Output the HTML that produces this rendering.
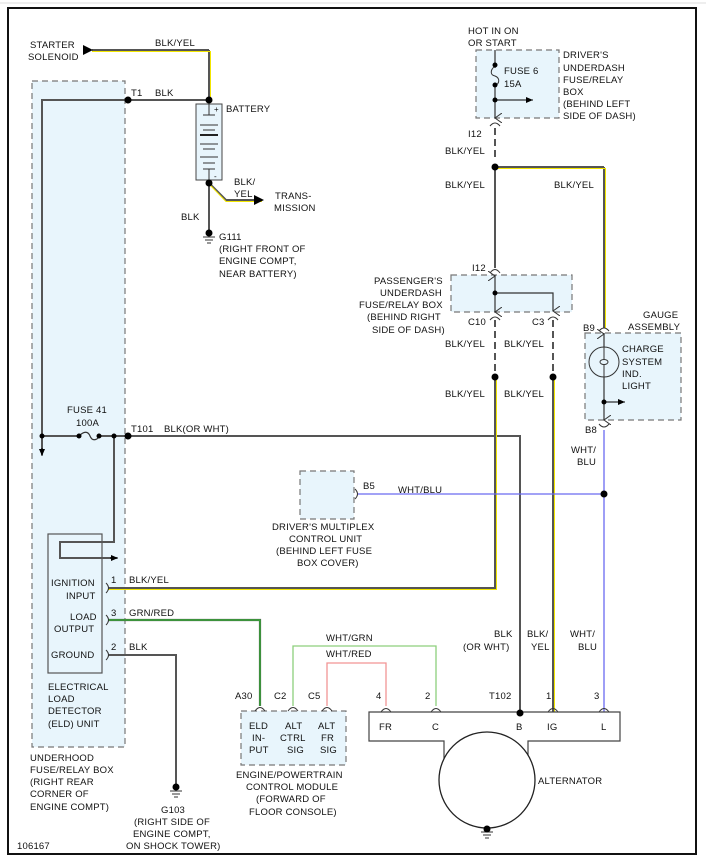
<!DOCTYPE html>
<html><head><meta charset="utf-8"><style>
html,body{margin:0;padding:0;background:#fff}
svg{display:block}
text{font-family:"Liberation Sans",sans-serif;font-size:9.5px;fill:#111;letter-spacing:0.2px}
</style></head><body>
<svg width="706" height="857" viewBox="0 0 706 857" xmlns="http://www.w3.org/2000/svg">
<defs>
<marker id="ar" markerWidth="10" markerHeight="10" refX="9" refY="5" orient="auto" markerUnits="userSpaceOnUse"><path d="M0,0 L10,5 L0,10 z" fill="#000"/></marker>
<marker id="as" markerWidth="8" markerHeight="8" refX="7" refY="4" orient="auto" markerUnits="userSpaceOnUse"><path d="M0,1 L7,4 L0,7 z" fill="#000"/></marker>
<marker id="av" markerWidth="10" markerHeight="8" refX="5" refY="7" orient="auto" markerUnits="userSpaceOnUse"><path d="M0,0 L5,7 L10,0" fill="none" stroke="#333" stroke-width="1"/></marker>
</defs>
<line x1="0" y1="3" x2="706" y2="3" stroke="#ddd" stroke-width="1"/>
<rect x="8" y="8" width="688" height="846" fill="none" stroke="#111" stroke-width="2"/>

<g fill="#e8f5fc" stroke="#777" stroke-width="1.2" stroke-dasharray="6,4">
<rect x="32" y="81" width="93" height="666"/>
<rect x="476" y="50" width="83" height="68"/>
<rect x="451" y="275" width="121" height="37"/>
<rect x="585" y="333" width="96" height="87"/>
<rect x="300" y="471" width="54" height="48"/>
<rect x="241" y="711" width="105" height="54"/>
</g>
<rect x="48" y="534" width="54" height="139" fill="#e8f5fc" stroke="#555" stroke-width="1.2"/>

<g fill="none" stroke="#555" stroke-width="2">
<polyline points="42,455 42,100 209,100"/>
<line x1="209" y1="100" x2="209" y2="50"/>
<line x1="209" y1="183" x2="209" y2="232"/>
<polyline points="209,183 226,200 262,200"/>
<polyline points="42,436 128,436 520,436 520,713"/>
<polyline points="114,436 114,542 60,542 60,558 117,558"/>
<polyline points="108,588 495,588 495,377"/>
<polyline points="108,655 176,655 176,785"/>
<line x1="495" y1="167" x2="495" y2="268"/>
<line x1="553" y1="377" x2="553" y2="712"/>
<line x1="604" y1="167" x2="604" y2="328"/>
<line x1="495" y1="167" x2="604" y2="167"/>
<polyline points="209,50 92,50"/>
</g>
<g fill="none" stroke-width="1">
<polyline points="210.5,100 210.5,51.5 92,51.5" stroke="#f2e600"/>
<polyline points="210,185 226,201.5 262,201.5" stroke="#f2e600"/>
<polyline points="108,589.5 496.5,589.5 496.5,377" stroke="#f2e600"/>
<polyline points="497,168.5 605.5,168.5 605.5,328" stroke="#f2e600"/>
<line x1="554.5" y1="377" x2="554.5" y2="712" stroke="#f2e600"/>
</g>
<polyline points="108,620 260,620 260,706" fill="none" stroke="#555" stroke-width="2.2"/>
<polyline points="108,620 260,620 260,706" fill="none" stroke="#2db82d" stroke-width="1.2"/>
<polyline points="293,706 293,646 436,646 436,706" fill="none" stroke="#8dcf7c" stroke-width="1.3"/>
<polyline points="327,706 327,663 386,663 386,706" fill="none" stroke="#f29494" stroke-width="1.3"/>
<polyline points="604,430 604,712" fill="none" stroke="#6a6af0" stroke-width="1.3"/>
<line x1="357" y1="494" x2="604" y2="494" stroke="#6a6af0" stroke-width="1.3"/>
<line x1="84" y1="50" x2="92" y2="50" stroke="#000" marker-end="url(#ar)"/>
<line x1="255" y1="200" x2="263" y2="200" stroke="#000" marker-end="url(#ar)"/>
<line x1="42" y1="448" x2="42" y2="456" stroke="#000" marker-end="url(#as)"/>
<line x1="110" y1="558" x2="118" y2="558" stroke="#000" marker-end="url(#as)"/>

<g stroke="#555" stroke-width="2" stroke-dasharray="7,4">
<line x1="495" y1="128" x2="495" y2="160"/>
<line x1="495" y1="320" x2="495" y2="372"/>
<line x1="553" y1="320" x2="553" y2="372"/>
</g>

<rect x="196" y="104" width="26" height="76" fill="#e8f5fc" stroke="#444" stroke-width="1"/>
<g stroke="#333" stroke-width="1">
<line x1="209" y1="104" x2="209" y2="115"/><line x1="209" y1="169" x2="209" y2="180"/>
<line x1="203" y1="115" x2="215" y2="115"/><line x1="200" y1="125" x2="218" y2="125"/>
<line x1="203" y1="130" x2="215" y2="130"/><line x1="200" y1="144" x2="218" y2="144"/>
<line x1="203" y1="149" x2="215" y2="149"/><line x1="200" y1="157" x2="218" y2="157"/>
<line x1="203" y1="163" x2="215" y2="163"/><line x1="203" y1="169" x2="215" y2="169"/>
</g>
<line x1="200" y1="135" x2="218" y2="135" stroke="#222" stroke-width="2"/>
<text x="214" y="112" style="font-size:8px">+</text><text x="214" y="179" style="font-size:8px">-</text>

<g stroke="#333" stroke-width="1">
<line x1="203" y1="237" x2="215" y2="237"/><line x1="205" y1="240" x2="213" y2="240"/><line x1="207" y1="243" x2="211" y2="243"/>
<line x1="170" y1="791" x2="182" y2="791"/><line x1="172" y1="794" x2="180" y2="794"/><line x1="174" y1="797" x2="178" y2="797"/>
<line x1="481" y1="832" x2="493" y2="832"/><line x1="483" y1="835" x2="491" y2="835"/><line x1="485" y1="838" x2="489" y2="838"/>
</g>
<circle cx="209" cy="233" r="3.5" fill="#000"/>
<circle cx="176" cy="787" r="3.5" fill="#000"/>

<line x1="495" y1="50" x2="495" y2="118" stroke="#333" stroke-width="1.2"/>
<rect x="492" y="68" width="6" height="15" fill="#e8f5fc"/>
<path d="M495,66 C490,70 490,75 495,76 C500,78 500,83 495,86" fill="none" stroke="#333"/>
<line x1="495" y1="100" x2="533" y2="100" stroke="#000" marker-end="url(#as)"/>
<line x1="495" y1="110" x2="495" y2="118" stroke="#333" marker-end="url(#av)"/>
<rect x="80" y="433" width="20" height="6" fill="#e8f5fc"/>
<path d="M79,436 C84,431 88,431 90,436 C92,441 96,441 100,436" fill="none" stroke="#333" stroke-width="1.2"/>

<line x1="495" y1="275" x2="495" y2="312" stroke="#333" stroke-width="1.2"/>
<polyline points="495,293 553,293 553,311" fill="none" stroke="#333" stroke-width="1.2"/>
<line x1="495" y1="304" x2="495" y2="312" stroke="#333" marker-end="url(#av)"/>
<line x1="553" y1="303" x2="553" y2="311" stroke="#333" marker-end="url(#av)"/>
<line x1="495" y1="285" x2="495" y2="276" stroke="#333" marker-end="url(#av)"/>

<line x1="604" y1="333" x2="604" y2="420" stroke="#333" stroke-width="1.2"/>
<circle cx="604" cy="362" r="15" fill="#e8f5fc" stroke="#333"/>
<line x1="604" y1="347" x2="604" y2="377" stroke="#333"/>
<ellipse cx="604" cy="362" rx="4" ry="2.5" fill="#e8f5fc" stroke="#333"/>
<line x1="604" y1="402" x2="625" y2="402" stroke="#000" marker-end="url(#as)"/>
<line x1="604" y1="412" x2="604" y2="420" stroke="#333" marker-end="url(#av)"/>
<line x1="604" y1="343" x2="604" y2="334" stroke="#333" marker-end="url(#av)"/>

<g fill="none" stroke="#333" stroke-width="1">
<path d="M490,126 Q495,120 500,126"/><path d="M490,273 Q495,266 500,273"/>
<path d="M490,320 Q495,314 500,320"/><path d="M548,320 Q553,314 558,320"/>
<path d="M599,331 Q604,325 609,331"/><path d="M599,424 Q604,430 609,424"/>
<path d="M255,711 Q260,704 265,711"/><path d="M288,711 Q293,704 298,711"/><path d="M322,711 Q327,704 332,711"/>
<path d="M381,712 Q386,705 391,712"/><path d="M431,712 Q436,705 441,712"/><path d="M548,712 Q553,705 558,712"/><path d="M599,712 Q604,705 609,712"/>
<path d="M106,583 Q111,588 106,593"/><path d="M106,615 Q111,620 106,625"/><path d="M106,650 Q111,655 106,660"/>
<path d="M355,489 Q360,494 355,499"/>
</g>

<rect x="369" y="712" width="251" height="29" fill="#fff" stroke="none"/>
<path d="M444,765 V741 H369 V712 H620 V741 H528 V765" fill="none" stroke="#444" stroke-width="1.2"/>
<circle cx="487" cy="780" r="48" fill="#fff" stroke="#222" stroke-width="1.3"/>
<circle cx="487" cy="829" r="3.5" fill="#000"/>

<g fill="#000">
<circle cx="128" cy="100" r="3.5"/><circle cx="209" cy="100" r="3.5"/><circle cx="209" cy="183" r="3.5"/>
<circle cx="42" cy="436" r="2.5"/><circle cx="79" cy="436" r="2.5"/><circle cx="99" cy="436" r="2.5"/><circle cx="114" cy="436" r="2.5"/><circle cx="128" cy="436" r="3.5"/>
<circle cx="495" cy="65" r="2.5"/><circle cx="495" cy="85" r="2.5"/><circle cx="495" cy="100" r="2.5"/>
<circle cx="495" cy="167" r="3.5"/><circle cx="495" cy="293" r="2.5"/>
<circle cx="495" cy="377" r="3.5"/><circle cx="553" cy="377" r="3.5"/>
<circle cx="604" cy="402" r="2.5"/><circle cx="604" cy="494" r="3.5"/><circle cx="520" cy="713" r="3.5"/>
</g>

<text x="30" y="48">STARTER</text><text x="28" y="60">SOLENOID</text>
<text x="155" y="46">BLK/YEL</text>
<text x="131" y="96">T1</text><text x="155" y="96">BLK</text>
<text x="226" y="112">BATTERY</text>
<text x="234" y="185">BLK/</text><text x="234" y="197">YEL</text>
<text x="275" y="199">TRANS-</text><text x="274" y="211">MISSION</text>
<text x="181" y="220">BLK</text>
<text x="219" y="240">G111</text>
<text x="219" y="252">(RIGHT FRONT OF</text><text x="219" y="264">ENGINE COMPT,</text><text x="219" y="277">NEAR BATTERY)</text>
<text x="468" y="34">HOT IN ON</text><text x="468" y="46">OR START</text>
<text x="504" y="74">FUSE 6</text><text x="504" y="87">15A</text>
<text x="563" y="58">DRIVER'S</text><text x="563" y="71">UNDERDASH</text><text x="563" y="83">FUSE/RELAY</text><text x="563" y="95">BOX</text><text x="563" y="107">(BEHIND LEFT</text><text x="563" y="119">SIDE OF DASH)</text>
<text x="468" y="137">I12</text>
<text x="445" y="154">BLK/YEL</text><text x="445" y="188">BLK/YEL</text><text x="554" y="188">BLK/YEL</text>
<text x="472" y="271">I12</text>
<text x="374" y="284">PASSENGER'S</text><text x="380" y="296">UNDERDASH</text><text x="359" y="308">FUSE/RELAY BOX</text><text x="367" y="320">(BEHIND RIGHT</text><text x="372" y="333">SIDE OF DASH)</text>
<text x="468" y="325">C10</text><text x="532" y="325">C3</text>
<text x="445" y="347">BLK/YEL</text><text x="504" y="347">BLK/YEL</text>
<text x="445" y="397">BLK/YEL</text><text x="504" y="397">BLK/YEL</text>
<text x="643" y="318">GAUGE</text><text x="628" y="330">ASSEMBLY</text>
<text x="583" y="331">B9</text>
<text x="622" y="352">CHARGE</text><text x="622" y="365">SYSTEM</text><text x="622" y="377">IND.</text><text x="622" y="389">LIGHT</text>
<text x="585" y="433">B8</text>
<text x="571" y="453">WHT/</text><text x="577" y="465">BLU</text>
<text x="67" y="413">FUSE 41</text><text x="76" y="426">100A</text>
<text x="131" y="432">T101</text><text x="164" y="432">BLK(OR WHT)</text>
<text x="363" y="489">B5</text><text x="398" y="493">WHT/BLU</text>
<text x="272" y="530">DRIVER'S MULTIPLEX</text><text x="289" y="542">CONTROL UNIT</text><text x="276" y="554">(BEHIND LEFT FUSE</text><text x="297" y="566">BOX COVER)</text>
<text x="51" y="586">IGNITION</text><text x="66" y="599">INPUT</text>
<text x="70" y="620">LOAD</text><text x="54" y="632">OUTPUT</text>
<text x="51" y="658">GROUND</text>
<text x="111" y="583">1</text><text x="111" y="616">3</text><text x="111" y="650">2</text>
<text x="129" y="583">BLK/YEL</text><text x="129" y="616">GRN/RED</text><text x="129" y="650">BLK</text>
<text x="48" y="690">ELECTRICAL</text><text x="48" y="702">LOAD</text><text x="48" y="714">DETECTOR</text><text x="48" y="727">(ELD) UNIT</text>
<text x="30" y="761">UNDERHOOD</text><text x="30" y="773">FUSE/RELAY BOX</text><text x="30" y="785">(RIGHT REAR</text><text x="30" y="797">CORNER OF</text><text x="30" y="810">ENGINE COMPT)</text>
<text x="161" y="813">G103</text><text x="134" y="825">(RIGHT SIDE OF</text><text x="133" y="837">ENGINE COMPT,</text><text x="126" y="849">ON SHOCK TOWER)</text>
<text x="17" y="849">106167</text>
<text x="326" y="641">WHT/GRN</text><text x="326" y="657">WHT/RED</text>
<text x="494" y="637">BLK</text><text x="463" y="650">(OR WHT)</text>
<text x="527" y="637">BLK/</text><text x="531" y="650">YEL</text>
<text x="570" y="637">WHT/</text><text x="578" y="650">BLU</text>
<text x="235" y="699">A30</text><text x="274" y="699">C2</text><text x="308" y="699">C5</text>
<text x="376" y="699">4</text><text x="425" y="699">2</text><text x="489" y="699">T102</text><text x="546" y="699">1</text><text x="594" y="699">3</text>
<text x="249" y="729">ELD</text><text x="252" y="741">IN-</text><text x="249" y="753">PUT</text>
<text x="285" y="729">ALT</text><text x="280" y="741">CTRL</text><text x="287" y="753">SIG</text>
<text x="318" y="729">ALT</text><text x="321" y="741">FR</text><text x="320" y="753">SIG</text>
<text x="236" y="778">ENGINE/POWERTRAIN</text><text x="246" y="790">CONTROL MODULE</text><text x="256" y="802">(FORWARD OF</text><text x="249" y="815">FLOOR CONSOLE)</text>
<text x="379" y="730">FR</text><text x="432" y="730">C</text><text x="516" y="730">B</text><text x="547" y="730">IG</text><text x="601" y="730">L</text>
<text x="538" y="784">ALTERNATOR</text>
</svg>
</body></html>
